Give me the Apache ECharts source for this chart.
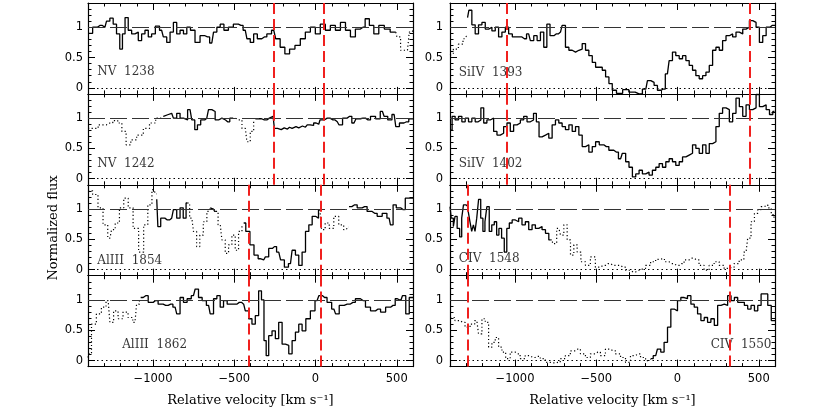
<!DOCTYPE html>
<html>
<head>
<meta charset="utf-8">
<script src="https://cdn.jsdelivr.net/npm/echarts@6/dist/echarts.min.js"></script>
<style>
  html, body { margin: 0; padding: 0; background: #fff; }
  #chart { width: 817px; height: 413px; }
</style>
</head>
<body>
<div id="chart"></div>
<script>
// velocity [km/s], normalized flux pairs
const nv1238Solid = [[-1400,.90],[-1385,.90],[-1358,1.0],[-1327,1.03],[-1296,1.0],[-1276,1.1],[-1255,1.15],[-1235,1.05],[-1214,.89],[-1195,.64],[-1181,.89],[-1163,1.16],[-1142,.95],[-1121,.89],[-1101,.92],[-1080,.78],[-1060,.89],[-1039,.95],[-1019,.84],[-998,.89],[-973,1.02],[-947,.95],[-926,.84],[-905,.75],[-885,.92],[-864,1.08],[-844,.89],[-823,.95],[-802,.89],[-782,1.0],[-757,.95],[-726,.75],[-695,.86],[-665,.84],[-638,.74],[-617,.92],[-597,1.0],[-576,1.05],[-551,.95],[-521,1.0],[-490,1.05],[-459,1.03],[-432,.95],[-412,.81],[-391,.75],[-370,.89],[-346,.81],[-315,.84],[-284,.89],[-257,.95],[-233,.81],[-202,.67],[-175,.56],[-144,.64],[-109,.70],[-78,.81],[-47,.92],[-16,1.0],[14,.89],[45,1.05],[76,.95],[107,1.03],[138,.95],[169,1.08],[200,.95],[230,.84],[261,.97],[292,1.0],[319,1.14],[344,1.03],[374,.89],[405,1.03],[442,.97],[477,.92],[494,.92]];
const nv1238Dot = [[494,.92],[508,.84],[539,.62],[566,.62],[588,.92],[600,.95]];

const nv1242Dot1 = [[-1400,.83],[-1368,.83],[-1307,.89],[-1265,.92],[-1230,.96],[-1204,.92],[-1179,.78],[-1152,.56],[-1121,.64],[-1080,.72],[-1039,.83],[-1004,.92],[-963,1.0],[-936,1.03]];
const nv1242Solid1 = [[-936,1.03],[-926,1.06],[-885,1.08],[-864,1.0],[-844,1.08],[-823,1.0],[-802,.97],[-772,1.14],[-751,.97],[-735,.81],[-718,.89],[-695,.97],[-669,1.0],[-648,1.14],[-628,1.11],[-607,.97],[-586,1.0],[-566,.97],[-541,.94],[-514,1.0]];
const nv1242Dot2 = [[-514,1.0],[-473,.97],[-432,.83],[-412,.61],[-391,.78],[-370,.94]];
const nv1242Solid2 = [[-370,.99],[-350,.99],[-315,.97],[-284,1.0],[-261,1.03],[-245,.83],[-222,.81],[-200,.84],[-185,.82],[-160,.85],[-144,.83],[-120,.86],[-103,.84],[-80,.87],[-62,.85],[-40,.89],[-27,.88],[4,.92],[20,.90],[35,.97],[72,1.0],[107,.97],[134,.94],[154,.89],[179,1.0],[210,1.03],[237,.92],[261,.99],[292,1.0],[323,.97],[354,1.03],[385,.99],[412,1.11],[432,1.03],[457,.97],[484,1.06],[504,.86],[529,.92],[560,.94],[588,.99],[600,.99]];

const al1854Dot1 = [[-1400,1.3],[-1389,1.3],[-1354,1.24],[-1323,1.02],[-1292,.74],[-1265,.52],[-1245,.66],[-1220,.77],[-1193,1.02],[-1167,1.18],[-1138,1.02],[-1107,.68],[-1070,.29],[-1045,.74],[-1019,1.07],[-994,1.32],[-977,1.25]];
const al1854Solid1 = [[-977,1.16],[-963,.71],[-942,.85],[-912,.82],[-885,.85],[-864,.99],[-844,.85],[-823,1.02],[-805,.85],[-788,1.1]];
const al1854Dot2 = [[-788,1.1],[-761,.85],[-741,.63],[-722,.38],[-702,.57],[-679,.79],[-658,.96],[-648,1.0]];
const al1854Solid2 = [[-648,1.02],[-628,1.0],[-613,.96]];
const al1854Dot3 = [[-613,.96],[-586,.74],[-566,.49],[-545,.27],[-525,.41],[-504,.57],[-484,.32],[-463,.63],[-442,.71]];
const al1854Solid3 = [[-442,.77],[-416,.63],[-391,.41],[-366,.24],[-340,.18],[-319,.16],[-298,.21],[-278,.35],[-253,.38],[-226,.29],[-204,.16],[-179,.04],[-154,.10],[-134,.32],[-113,.24],[-93,.07],[-72,.29],[-51,.63],[-31,.74],[-10,.88],[10,.85],[27,.99]];
const al1854Dot4 = [[27,.99],[47,.66],[72,.77],[97,.68],[128,.88],[158,.74],[189,.66],[206,.7]];
const al1854Solid4 = [[206,1.04],[241,1.07],[272,1.02],[302,1.04],[333,.96],[364,.93],[395,.88],[426,.93],[453,.85],[469,.74],[486,1.07],[508,1.02],[539,.99],[566,1.18],[588,1.18],[600,1.18]];

const al1862Dot = [[-1400,.05],[-1393,.11],[-1364,.60],[-1333,.77],[-1302,.88],[-1276,.99],[-1255,.63],[-1230,.82],[-1200,.69],[-1169,.80],[-1138,.71],[-1111,.63],[-1091,.93],[-1076,1.0]];
const al1862Solid = [[-1076,1.04],[-1045,1.07],[-1014,.96],[-984,.99],[-953,.93],[-922,.91],[-891,.93],[-864,.88],[-844,.77],[-823,1.04],[-802,.96],[-778,1.02],[-751,1.07],[-730,1.18],[-710,1.04],[-685,.99],[-658,.91],[-638,.77],[-617,1.02],[-597,1.07],[-576,.88],[-556,.99],[-531,.93],[-500,.93],[-469,.96],[-442,.93],[-422,.82],[-401,.69],[-381,.60],[-360,.74],[-340,1.15],[-325,1.0],[-309,.33],[-298,.08],[-278,.41],[-257,.49],[-237,.36],[-216,.63],[-195,.27],[-175,.25],[-154,.11],[-134,.33],[-113,.47],[-93,.60],[-72,.49],[-47,.69],[-16,.82],[10,.99],[31,1.07],[56,1.04],[86,.96],[113,.85],[134,.77],[158,.91],[195,.93],[230,.96],[261,1.02],[292,.99],[323,.88],[354,.82],[385,.85],[416,.80],[447,.88],[477,.91],[504,1.02],[525,.99],[545,1.07],[566,.77],[588,1.04],[600,1.04]];

const si1393Dot = [[-1400,.54],[-1395,.56],[-1364,.64],[-1333,.72],[-1307,.81],[-1292,.85]];
const si1393Solid = [[-1292,1.16],[-1276,1.28],[-1255,1.04],[-1235,.89],[-1214,1.04],[-1193,1.08],[-1173,.97],[-1152,1.0],[-1132,.94],[-1111,1.0],[-1091,.84],[-1070,.92],[-1049,1.0],[-1029,.89],[-1004,.84],[-973,.84],[-942,.81],[-916,.89],[-895,.78],[-874,.86],[-854,.78],[-833,.92],[-813,.67],[-795,1.05],[-774,.86],[-747,.89],[-720,.92],[-700,1.03],[-679,.67],[-658,.62],[-638,.59],[-617,.62],[-597,.64],[-576,.73],[-556,.62],[-535,.53],[-514,.42],[-494,.34],[-473,.34],[-453,.29],[-432,.18],[-412,.07],[-391,-.04],[-360,-.09],[-315,-.03],[-284,-.07],[-237,-.1],[-195,-.02],[-175,.12],[-154,.09],[-134,.04],[-113,-.04],[-88,-.02],[-62,.23],[-41,.45],[-21,.59],[0,.53],[21,.48],[41,.53],[62,.45],[82,.37],[103,.29],[123,.20],[144,.15],[165,.20],[185,.26],[206,.37],[226,.62],[247,.67],[267,.62],[288,.78],[309,.86],[329,.89],[350,.84],[370,.92],[391,.89],[412,.97],[432,1.0],[453,1.11],[473,1.08],[494,1.0],[514,.75],[535,.86],[556,1.0],[582,1.03],[600,1.03]];

const si1402Solid = [[-1400,.8],[-1395,.8],[-1379,1.03],[-1358,.97],[-1337,1.03],[-1317,.94],[-1296,1.0],[-1276,.94],[-1255,1.0],[-1235,.94],[-1218,.97],[-1202,1.17],[-1183,.92],[-1163,.97],[-1142,1.0],[-1121,.78],[-1101,.72],[-1080,.75],[-1060,.86],[-1039,.92],[-1019,.78],[-998,.89],[-977,.92],[-957,.97],[-936,1.03],[-916,.94],[-895,.97],[-877,1.08],[-860,.94],[-844,.69],[-823,.72],[-802,.75],[-782,.67],[-761,.89],[-741,.97],[-720,.92],[-700,.86],[-679,.81],[-658,.89],[-638,.78],[-617,.86],[-597,.72],[-576,.53],[-556,.56],[-535,.44],[-514,.53],[-494,.61],[-469,.56],[-438,.53],[-407,.47],[-377,.44],[-350,.33],[-329,.42],[-309,.28],[-288,.19],[-267,.03],[-247,.08],[-226,.14],[-206,.08],[-185,.11],[-165,.06],[-144,.14],[-123,.19],[-103,.25],[-82,.19],[-62,.28],[-41,.33],[-21,.28],[0,.22],[21,.28],[41,.36],[62,.39],[82,.42],[103,.56],[123,.50],[144,.42],[165,.56],[185,.42],[206,.58],[226,.61],[247,.86],[267,1.08],[288,1.17],[309,1.14],[329,.94],[350,1.08],[370,1.33],[391,1.19],[412,1.03],[432,1.22],[453,1.14],[473,1.17],[494,1.39],[514,1.19],[535,1.22],[556,1.14],[576,1.06],[597,1.11],[600,1.11]];

const civ1548Solid = [[-1400,1.04],[-1385,.85],[-1374,.71],[-1364,.88],[-1348,.68],[-1333,.54],[-1323,.85],[-1311,1.07],[-1294,1.04],[-1282,.96],[-1272,.79],[-1261,.63],[-1251,.74],[-1241,.63],[-1230,.85],[-1218,1.16],[-1204,.85],[-1191,.63],[-1179,.79],[-1167,1.04],[-1150,.63],[-1136,.74],[-1119,.79],[-1107,.57],[-1091,.68],[-1074,.52],[-1058,.29],[-1043,.68],[-1027,.77],[-1008,.82],[-988,.79],[-967,.85],[-947,.74],[-926,.79],[-905,.66],[-885,.74],[-864,.68],[-844,.71],[-823,.66],[-802,.60],[-782,.49]];
const civ1548Dot = [[-782,.49],[-757,.43],[-730,.68],[-710,.57],[-689,.74],[-669,.49],[-648,.24],[-628,.41],[-607,.29],[-582,.13],[-551,.07],[-521,.21],[-490,.04],[-459,.07],[-428,.10],[-397,.07],[-366,.07],[-335,.04],[-305,-.01],[-274,-.04],[-243,-.01],[-212,.02],[-181,.07],[-150,.13],[-119,.17],[-93,.18],[-68,.13],[-37,.10],[-6,.07],[25,.10],[56,.16],[86,.19],[117,.16],[148,.07],[179,-.01],[210,.07],[241,.13],[272,.07],[302,.02],[333,.04],[364,.10],[395,.16],[422,.29],[442,.52],[463,.79],[484,.93],[504,.99],[525,1.04],[545,1.07],[566,1.02],[588,.91],[600,.85]];

const civ1550Dot = [[-1400,.71],[-1385,.71],[-1354,.66],[-1323,.63],[-1292,.55],[-1261,.60],[-1235,.66],[-1214,.44],[-1193,.69],[-1173,.63],[-1152,.22],[-1132,.30],[-1111,.38],[-1091,.22],[-1070,.14],[-1045,.03],[-1014,.14],[-984,.11],[-953,.03],[-922,.08],[-891,.05],[-860,.07],[-829,.03],[-798,-.03],[-767,-.04],[-737,-.03],[-706,.03],[-675,.08],[-644,.16],[-613,.19],[-582,.11],[-551,.05],[-521,.11],[-490,.14],[-459,.08],[-428,.19],[-397,.16],[-366,.11],[-335,.05],[-305,-.03],[-274,.08],[-243,.11],[-212,.05],[-181,0],[-165,.02]];
const civ1550Solid = [[-165,.03],[-134,.08],[-113,.19],[-93,.14],[-72,.30],[-51,.55],[-31,.85],[-10,.82],[10,.99],[31,1.04],[51,1.02],[72,1.07],[93,.93],[113,.88],[134,.77],[154,.66],[175,.71],[195,.63],[216,.69],[237,.58],[257,.91],[278,.93],[298,.91],[319,1.07],[340,.99],[360,1.04],[381,.96],[401,.96],[422,.91],[442,.85],[463,.91],[484,.82],[504,.91],[525,1.10],[545,1.10],[566,.91],[588,.66],[600,.66]];

// component velocity limits (red dashed lines)
const nvLines = [-257, 52];
const alLines = [-411, 30];
const siLines = [-1053, 446];
const civLines = [-1288, 323];

const majorX = [-1000, -500, 0, 500];
const majorY = [0, 0.5, 1];

// left column top to bottom, then right column
const panels = [
  { label: "NV  1238", at: [-1346, 0.26], solid: [nv1238Solid], dotted: [nv1238Dot], lines: nvLines },
  { label: "NV  1242", at: [-1346, 0.25], solid: [nv1242Solid1, nv1242Solid2], dotted: [nv1242Dot1, nv1242Dot2], lines: nvLines },
  { label: "AlIII  1854", at: [-1346, 0.14], solid: [al1854Solid1, al1854Solid2, al1854Solid3, al1854Solid4], dotted: [al1854Dot1, al1854Dot2, al1854Dot3, al1854Dot4], lines: alLines },
  { label: "AlIII  1862", at: [-1193, 0.26], solid: [al1862Solid], dotted: [al1862Dot], lines: alLines },
  { label: "SiIV  1393", at: [-1349, 0.25], solid: [si1393Solid], dotted: [si1393Dot], lines: siLines },
  { label: "SiIV  1402", at: [-1349, 0.25], solid: [si1402Solid], dotted: [], lines: siLines },
  { label: "CIV  1548", at: [-1349, 0.17], solid: [civ1548Solid], dotted: [civ1548Dot], lines: civLines },
  { label: "CIV  1550", at: [201, 0.26], solid: [civ1550Solid], dotted: [civ1550Dot], lines: civLines }
];

const colLeft = [88, 450];
const plotW = 325;
const plotTop = 3;
const plotH = 90.9;
const sans = "DejaVu Sans";
const serif = "DejaVu Serif";
const fmtNum = v => (v < 0 ? "\u2212" + (-v) : String(v));

const grids = [];
const xAxes = [];
const yAxes = [];
const series = [];

function axisBase(gridIndex, position, isX) {
  return {
    type: "value",
    gridIndex: gridIndex,
    position: position,
    min: isX ? -1400 : -0.1,
    max: isX ? 600 : 1.4,
    axisLine: { show: true, onZero: false, lineStyle: { color: "#000", width: 1.2 } },
    splitLine: { show: false },
    axisLabel: { show: false },
    animation: false
  };
}

panels.forEach((p, i) => {
  const col = Math.floor(i / 4);
  const row = i % 4;
  const rect = { left: colLeft[col], top: plotTop + row * plotH, width: plotW, height: plotH, outerBoundsMode: "none", containLabel: false };
  const gMain = grids.length;
  grids.push(rect);
  const gMinor = grids.length;
  grids.push(Object.assign({}, rect));

  // long ticks + labels
  const xi = xAxes.length;
  const xb = axisBase(gMain, "bottom", true);
  xb.axisTick = { show: true, inside: true, length: 7, customValues: majorX, lineStyle: { color: "#000" } };
  if (row === 3) {
    xb.axisLabel = { show: true, customValues: majorX, formatter: fmtNum, fontFamily: sans, fontSize: 11.5, color: "#000", margin: 6 };
    xb.name = "Relative velocity [km s\u207B\u00B9]";
    xb.nameLocation = "middle";
    xb.nameGap = 28;
    xb.nameTextStyle = { fontFamily: serif, fontSize: 13, color: "#000" };
  }
  xAxes.push(xb);
  const xt = axisBase(gMain, "top", true);
  xt.axisTick = { show: true, inside: true, length: 7, customValues: majorX, lineStyle: { color: "#000" } };
  xAxes.push(xt);

  const yi = yAxes.length;
  const yl = axisBase(gMain, "left", false);
  yl.axisTick = { show: true, inside: true, length: 7, customValues: majorY, lineStyle: { color: "#000" } };
  yl.axisLabel = { show: true, customValues: majorY, formatter: v => String(v), fontFamily: sans, fontSize: 11.5, color: "#000", margin: col === 0 ? 5 : 7 };
  yAxes.push(yl);
  const yr = axisBase(gMain, "right", false);
  yr.axisTick = { show: true, inside: true, length: 7, customValues: majorY, lineStyle: { color: "#000" } };
  yAxes.push(yr);

  // short ticks on an overlaid grid
  ["bottom", "top"].forEach(pos => {
    const a = axisBase(gMinor, pos, true);
    a.interval = 100;
    a.axisLine = { show: false, onZero: false };
    a.axisTick = { show: true, inside: true, length: 3.5, lineStyle: { color: "#000" } };
    xAxes.push(a);
  });
  ["left", "right"].forEach(pos => {
    const a = axisBase(gMinor, pos, false);
    a.interval = 0.1;
    a.axisLine = { show: false, onZero: false };
    a.axisTick = { show: true, inside: true, length: 3.5, lineStyle: { color: "#000" } };
    yAxes.push(a);
  });

  const refLines = [
    { yAxis: 1, lineStyle: { type: [17, 5], color: "#333", width: 1 } },
    { yAxis: 0, lineStyle: { type: [1.5, 3], color: "#000", width: 1 } }
  ];
  p.lines.forEach(v => refLines.push({ xAxis: v, lineStyle: { type: [11, 5], color: "#f0201e", width: 2 } }));

  p.dotted.forEach(d => {
    series.push({
      type: "line", xAxisIndex: xi, yAxisIndex: yi, data: d, step: "middle",
      symbol: "none", silent: true, animation: false,
      lineStyle: { color: "#000", width: 1.2, type: [1.2, 2.4] }
    });
  });
  p.solid.forEach((d, k) => {
    const s = {
      type: "line", xAxisIndex: xi, yAxisIndex: yi, data: d, step: "middle",
      symbol: "none", silent: true, animation: false,
      lineStyle: { color: "#000", width: 1.3 }
    };
    if (k === 0) {
      s.markLine = { symbol: "none", silent: true, animation: false, label: { show: false }, data: refLines };
    }
    series.push(s);
  });

  series.push({
    type: "scatter", xAxisIndex: xi, yAxisIndex: yi, data: [p.at],
    symbolSize: 1, itemStyle: { color: "rgba(0,0,0,0)" }, silent: true, animation: false,
    label: { show: true, position: "right", distance: 0, formatter: p.label, fontFamily: serif, fontSize: 12, color: "#000" }
  });
});

const chart = echarts.init(document.getElementById("chart"), null, { renderer: "canvas" });
chart.setOption({
  animation: false,
  backgroundColor: "#fff",
  grid: grids,
  xAxis: xAxes,
  yAxis: yAxes,
  series: series,
  graphic: [{
    type: "text", x: 54, y: 228, rotation: Math.PI / 2,
    style: { text: "Normalized flux", fill: "#000", font: "13px 'DejaVu Serif'", align: "center", verticalAlign: "middle" }
  }]
});
</script>
</body>
</html>
